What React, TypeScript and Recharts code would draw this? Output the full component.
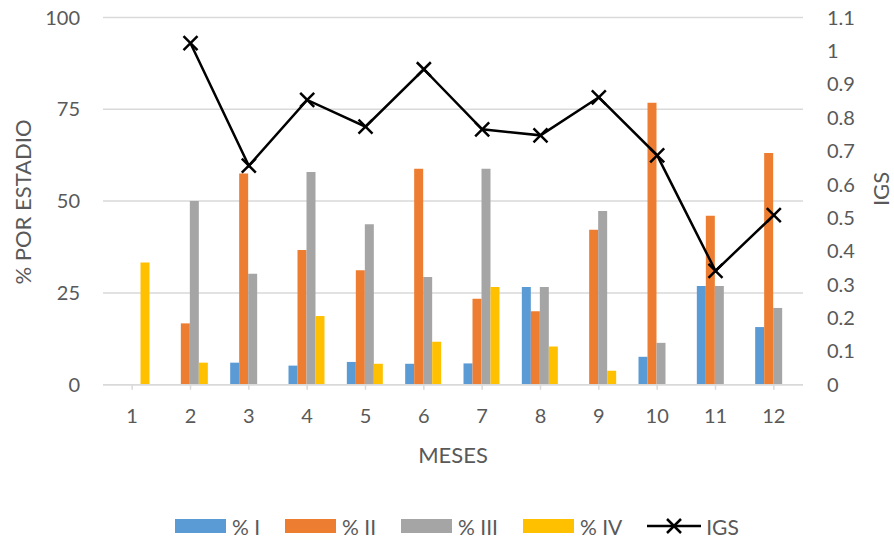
import React from "react";
import { ComposedChart, Bar, Line, XAxis, YAxis, CartesianGrid } from "recharts";

const meses = ["1", "2", "3", "4", "5", "6", "7", "8", "9", "10", "11", "12"];
const pctI = [0, 0, 6.0, 5.2, 6.2, 5.7, 5.8, 26.6, 0, 7.6, 26.9, 15.7];
const pctII = [0, 16.7, 57.5, 36.7, 31.2, 58.8, 23.4, 20.0, 42.2, 76.8, 46.0, 63.1];
const pctIII = [0, 50.0, 30.2, 57.9, 43.7, 29.3, 58.8, 26.6, 47.3, 11.4, 26.9, 20.9];
const pctIV = [33.3, 6.0, 0, 18.7, 5.7, 11.7, 26.6, 10.4, 3.8, 0, 0, 0];
const igs = [null, 1.023, 0.656, 0.853, 0.773, 0.945, 0.765, 0.747, 0.861, 0.687, 0.341, 0.508];

const leftTicks = [0, 25, 50, 75, 100];
const rightTicks = [0, 0.1, 0.2, 0.3, 0.4, 0.5, 0.6, 0.7, 0.8, 0.9, 1, 1.1];

const data = meses.map((mes, i) => ({
  mes,
  i: pctI[i],
  ii: pctII[i],
  iii: pctIII[i],
  iv: pctIV[i],
  igs: igs[i],
}));

const FONT = "Lato, 'Noto Sans', sans-serif";
const TXT = "#595959";
const GRID = "#D9D9D9";

const XDot = (props: any) => {
  const { cx, cy, payload } = props;
  if (payload == null || payload.igs == null || cx == null || cy == null) return <g />;
  const s = 7;
  return (
    <g>
      <line x1={cx - s} y1={cy - s} x2={cx + s} y2={cy + s} stroke="#000" strokeWidth={2.5} />
      <line x1={cx - s} y1={cy + s} x2={cx + s} y2={cy - s} stroke="#000" strokeWidth={2.5} />
    </g>
  );
};

const legendItems = [
  { name: "% I", color: "#5B9BD5" },
  { name: "% II", color: "#ED7D31" },
  { name: "% III", color: "#A5A5A5" },
  { name: "% IV", color: "#FFC000" },
];

export default function App() {
  return (
    <div style={{ position: "absolute", left: 0, top: 0, width: 894, height: 540, background: "#fff", fontFamily: FONT }}>
      <ComposedChart
        width={894}
        height={540}
        data={data}
        margin={{ top: 17.5, right: 0, bottom: 75.3, left: 0 }}
        barCategoryGap="18%"
        barGap={0}
      >
        <CartesianGrid yAxisId="left" vertical={false} stroke={GRID} strokeWidth={1.5} />
        <XAxis
          dataKey="mes"
          height={80}
          tickSize={5}
          tickMargin={19}
          axisLine={{ stroke: GRID, strokeWidth: 1.5 }}
          tickLine={{ stroke: GRID, strokeWidth: 1.5 }}
          tick={{ fill: TXT, fontSize: 20, fontFamily: FONT }}
          label={{
            content: (p: any) => {
              const vb = p.viewBox;
              return (
                <text x={vb.x + vb.width / 2} y={vb.y + 78} textAnchor="middle" fill={TXT} fontSize={22} fontFamily={FONT}>
                  MESES
                </text>
              );
            },
          }}
        />
        <YAxis
          yAxisId="left"
          orientation="left"
          width={103}
          domain={[0, 100]}
          ticks={leftTicks}
          axisLine={false}
          tickLine={false}
          tickSize={0}
          tickMargin={23}
          tick={{ fill: TXT, fontSize: 20, fontFamily: FONT }}
          label={{
            content: () => (
              <text x={22} y={202} transform="rotate(-90 22 202)" textAnchor="middle" dominantBaseline="central" fill={TXT} fontSize={22} fontFamily={FONT}>
                % POR ESTADIO
              </text>
            ),
          }}
        />
        <YAxis
          yAxisId="right"
          orientation="right"
          width={91}
          domain={[0, 1.1]}
          ticks={rightTicks}
          axisLine={false}
          tickLine={false}
          tickSize={0}
          tickMargin={24}
          tickFormatter={(v: number) => String(v)}
          tick={{ fill: TXT, fontSize: 20, fontFamily: FONT }}
          label={{
            content: () => (
              <text x={880} y={189} transform="rotate(-90 880 189)" textAnchor="middle" dominantBaseline="central" fill={TXT} fontSize={22} fontFamily={FONT}>
                IGS
              </text>
            ),
          }}
        />
        <Bar yAxisId="left" dataKey="i" name="% I" fill="#5B9BD5" isAnimationActive={false} />
        <Bar yAxisId="left" dataKey="ii" name="% II" fill="#ED7D31" isAnimationActive={false} />
        <Bar yAxisId="left" dataKey="iii" name="% III" fill="#A5A5A5" isAnimationActive={false} />
        <Bar yAxisId="left" dataKey="iv" name="% IV" fill="#FFC000" isAnimationActive={false} />
        <Line
          yAxisId="right"
          type="linear"
          dataKey="igs"
          name="IGS"
          stroke="#000"
          strokeWidth={2.5}
          dot={<XDot />}
          activeDot={false}
          isAnimationActive={false}
        />
      </ComposedChart>
      <div style={{ position: "absolute", left: 175, top: 512, display: "flex", alignItems: "center", height: 28, color: TXT, fontSize: 21 }}>
        {legendItems.map((it) => (
          <div key={it.name} style={{ display: "flex", alignItems: "center", marginRight: 25 }}>
            <span style={{ display: "inline-block", width: 51, height: 14, background: it.color, marginRight: 6 }} />
            <span>{it.name}</span>
          </div>
        ))}
        <div style={{ display: "flex", alignItems: "center" }}>
          <svg width={54} height={20} style={{ marginRight: 5 }}>
            <line x1={0} y1={10} x2={54} y2={10} stroke="#000" strokeWidth={2.5} />
            <line x1={20} y1={3} x2={34} y2={17} stroke="#000" strokeWidth={2.5} />
            <line x1={20} y1={17} x2={34} y2={3} stroke="#000" strokeWidth={2.5} />
          </svg>
          <span>IGS</span>
        </div>
      </div>
    </div>
  );
}
